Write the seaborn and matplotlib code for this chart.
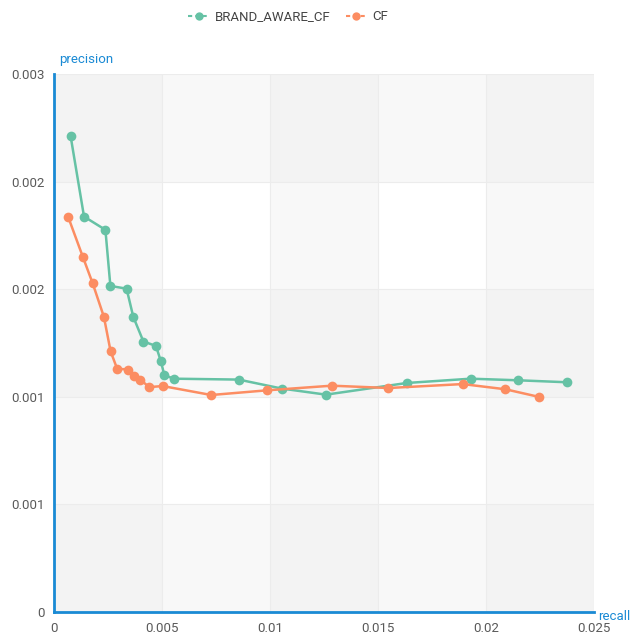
import numpy as np
import pandas as pd
import seaborn as sns
import matplotlib
matplotlib.use("Agg")
import matplotlib.pyplot as plt
from matplotlib.lines import Line2D

# ---- data ----
brand_recall = [0.00077, 0.00139, 0.00238, 0.00261, 0.00336, 0.00367, 0.00414, 0.00472,
                0.00495, 0.00511, 0.00556, 0.00855, 0.01054, 0.01259, 0.01633, 0.01929,
                0.02150, 0.02376]
brand_precision = [0.002653, 0.002205, 0.002131, 0.001818, 0.001803, 0.001646, 0.001508, 0.001484,
                   0.001397, 0.001320, 0.001301, 0.001296, 0.001246, 0.001212, 0.001277, 0.001301,
                   0.001292, 0.001281]
cf_recall = [0.00065, 0.00133, 0.00179, 0.00231, 0.00262, 0.00292, 0.00343, 0.00372,
             0.00400, 0.00440, 0.00503, 0.00728, 0.00985, 0.01286, 0.01548, 0.01892,
             0.02090, 0.02247]
cf_precision = [0.002205, 0.001982, 0.001833, 0.001646, 0.001454, 0.001357, 0.001352, 0.001318,
                0.001296, 0.001254, 0.001260, 0.001210, 0.001236, 0.001262, 0.001249, 0.001271,
                0.001242, 0.001199]
series_names = ["BRAND_AWARE_CF", "CF"]
x_ticks = [0, 0.005, 0.01, 0.015, 0.02, 0.025]
x_tick_labels = ["0", "0.005", "0.01", "0.015", "0.02", "0.025"]
y_ticks = [0, 0.0006, 0.0012, 0.0018, 0.0024, 0.003]
y_tick_labels = ["0", "0.001", "0.001", "0.002", "0.002", "0.003"]

df = pd.concat([
    pd.DataFrame({"recall": brand_recall, "precision": brand_precision, "model": series_names[0]}),
    pd.DataFrame({"recall": cf_recall, "precision": cf_precision, "model": series_names[1]}),
], ignore_index=True)

sns.set_style("white")
plt.rcParams['font.family'] = ['Roboto', 'DejaVu Sans']

colors = {"BRAND_AWARE_CF": "#66c2a5", "CF": "#fc8d62"}
axis_blue = "#1a8ad4"

fig = plt.figure(figsize=(6.31, 6.35), dpi=100)
ax = fig.add_axes([54/631, 1 - 612/635, 540/631, 538/635])

ax.set_xlim(0, 0.025)
ax.set_ylim(0, 0.003)

# split areas (checkered background)
for i in range(len(x_ticks) - 1):
    if i % 2 == 0:
        ax.axvspan(x_ticks[i], x_ticks[i+1], color="#e0e0e0", alpha=0.2, lw=0, zorder=0)
for i in range(len(y_ticks) - 1):
    if i % 2 == 0:
        ax.axhspan(y_ticks[i], y_ticks[i+1], color="#e0e0e0", alpha=0.2, lw=0, zorder=0)
for xv in x_ticks[1:]:
    ax.axvline(xv, color="#ececec", lw=0.8, zorder=0.5)
for yv in y_ticks[1:]:
    ax.axhline(yv, color="#ececec", lw=0.8, zorder=0.5)

sns.lineplot(data=df, x="recall", y="precision", hue="model", palette=colors,
             sort=False, estimator=None, marker="o", markersize=7, markeredgewidth=0,
             linewidth=1.8, ax=ax, legend=False, zorder=3)

ax.set_xticks(x_ticks)
ax.set_xticklabels(x_tick_labels)
ax.set_yticks(y_ticks)
ax.set_yticklabels(y_tick_labels)
ax.tick_params(axis="both", length=0, labelsize=9.5, labelcolor="#5a5a5a", pad=7)
ax.set_xlabel("")
ax.set_ylabel("")

for s in ["top", "right"]:
    ax.spines[s].set_visible(False)
for s in ["left", "bottom"]:
    ax.spines[s].set_color(axis_blue)
    ax.spines[s].set_linewidth(2)
    ax.spines[s].set_zorder(4)

fig.text(59/631, 1 - 60/635, "precision", color=axis_blue, fontsize=9.5, ha="left", va="center")
fig.text(598/631, 1 - 616/635, "recall", color=axis_blue, fontsize=9.5, ha="left", va="center")

handles = [Line2D([0], [0], color=colors[n], lw=1.5, marker="o", markersize=6,
                  markeredgewidth=0, linestyle=(0, (2, 1.5))) for n in series_names]
fig.legend(handles, series_names, loc="center", bbox_to_anchor=(288/631, 1 - 17/635),
           ncol=2, frameon=False, fontsize=9.5, handlelength=1.6, handletextpad=0.4,
           columnspacing=1.2, labelcolor="#444444")

fig.savefig("out.png", dpi=100)
